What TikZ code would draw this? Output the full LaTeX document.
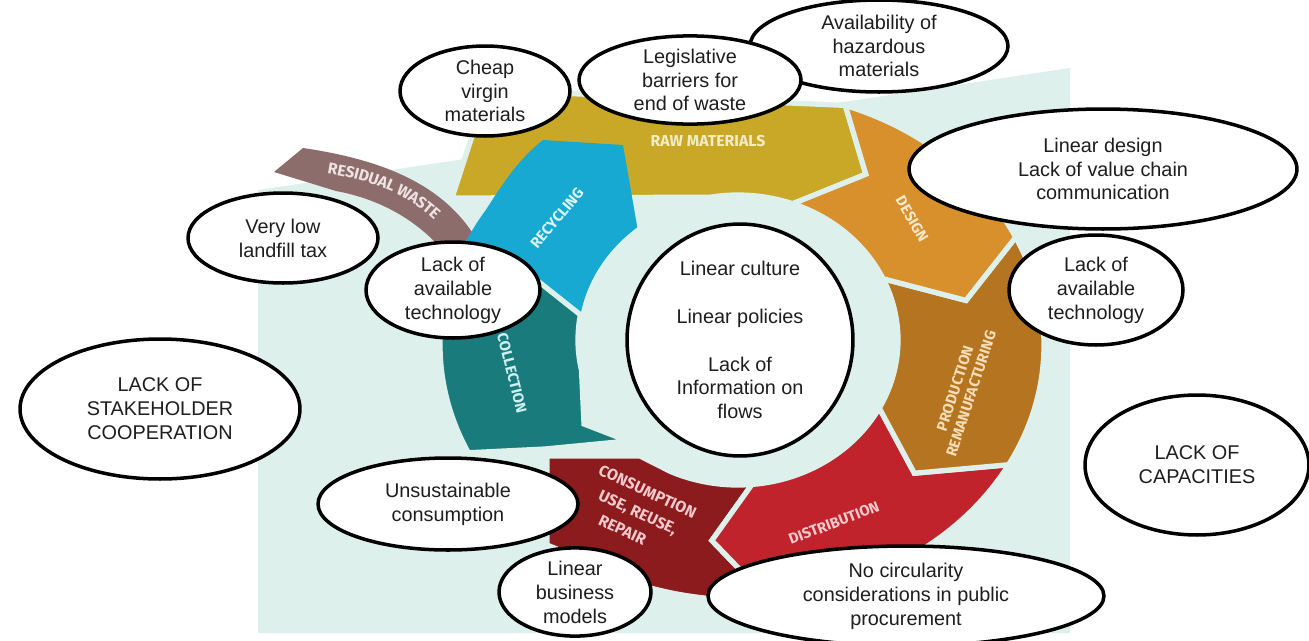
\documentclass[tikz,border=0pt]{standalone}
\usepackage{fontspec}
\setmainfont{Liberation Sans}
\newfontfamily\segfont{Fira Sans}
\usetikzlibrary{shapes.geometric,calc,decorations.text}

\definecolor{bgmint}{HTML}{DDF0EC}
\definecolor{rawc}{HTML}{C9A827}
\definecolor{desc}{HTML}{D8902C}
\definecolor{prodc}{HTML}{B5741F}
\definecolor{distc}{HTML}{C0232B}
\definecolor{consc}{HTML}{8C1B1E}
\definecolor{collc}{HTML}{1A7B7D}
\definecolor{recc}{HTML}{17A9D1}
\definecolor{resc}{HTML}{8D6D6C}
\definecolor{txt}{HTML}{1E1E1E}
\definecolor{rawtxt}{HTML}{F3EBC3}
\definecolor{destxt}{HTML}{FBE7CB}
\definecolor{prodtxt}{HTML}{F7DDB7}
\definecolor{redtxt}{HTML}{F6C9CC}
\definecolor{colltxt}{HTML}{CFEFF0}
\definecolor{rectxt}{HTML}{DDF4FB}
\definecolor{restxt}{HTML}{EEE2E2}

\begin{document}
\begin{tikzpicture}[x=0.02cm,y=-0.02cm,
  bubble/.style={ellipse, draw=black, line width=2pt, fill=white, inner sep=0pt,
    align=center, text=txt, font=\fontsize{11.3}{13.6}\selectfont},
  seg/.style={draw=bgmint, line width=3pt, line join=miter},
  seglabel/.style={font=\segfont\bfseries\fontsize{8.5}{9.6}\selectfont, align=center, inner sep=0pt}]

\useasboundingbox (0,0) rectangle (1309,640);
\fill[white] (0,0) rectangle (1309,640);
\fill[bgmint] (258,190) -- (1070,68) -- (1070,633) -- (258,633) -- cycle;

\coordinate (O) at (742,345);
\coordinate (I) at (738,340);
\coordinate (M) at (740,342);

% residual waste
\path[fill=resc] (303,148) .. controls (385,160) and (440,185) .. (472,232)
  -- (452,262) .. controls (425,225) and (385,200) .. (336,191) -- (274,172) -- cycle;
\path[decorate, decoration={text along path, text align=center, raise=-3.2pt,
  text={|\segfont\bfseries\fontsize{9}{9}\selectfont\color{restxt}|RESIDUAL WASTE}}]
  (290,164) .. controls (380,170) and (430,196) .. (462,246);

% raw materials
\path[seg, fill=rawc] (452,198) -- (487,90) -- ($(O)+(-70:302 and 255)$)
  -- ($(M)+(-57:231 and 200)$) -- ($(I)+(-70:160 and 145)$)
  arc[start angle=-70, end angle=-100, x radius=160, y radius=145] -- cycle;

% recycling
\path[fill=recc] ($(O)+(190:302 and 255)$)
  arc[start angle=190, end angle=212, x radius=302, y radius=255]
  .. controls (505,180) and (520,158) .. (543,140) -- (623,145)
  -- ($(I)+(231:160 and 145)$)
  arc[start angle=231, end angle=190, x radius=160, y radius=145]
  -- ($(M)+(201:231 and 200)$) -- cycle;

% collection
\path[seg, fill=collc] ($(O)+(155:302 and 255)$)
  arc[start angle=155, end angle=190, x radius=302, y radius=255]
  -- ($(M)+(201:231 and 200)$) -- ($(I)+(190:160 and 145)$)
  arc[start angle=190, end angle=168, x radius=160, y radius=145]
  -- (584,424) -- (628,441) -- (545,449) -- cycle;

% consumption
\path[seg, fill=consc] ($(O)+(85:302 and 255)$)
  arc[start angle=85, end angle=125, x radius=302, y radius=255]
  -- (547,545) -- (547,456) -- (640,456) -- ($(I)+(115:160 and 145)$)
  arc[start angle=115, end angle=85, x radius=160, y radius=145]
  -- ($(M)+(97:231 and 200)$) -- cycle;

% distribution
\path[seg, fill=distc] ($(O)+(28:302 and 255)$)
  arc[start angle=28, end angle=85, x radius=302, y radius=255]
  -- ($(M)+(97:231 and 200)$) -- ($(I)+(85:160 and 145)$)
  arc[start angle=85, end angle=28, x radius=160, y radius=145]
  -- ($(M)+(41:231 and 200)$) -- cycle;

% production
\path[seg, fill=prodc] ($(O)+(-25:302 and 255)$)
  arc[start angle=-25, end angle=28, x radius=302, y radius=255]
  -- ($(M)+(41:231 and 200)$) -- ($(I)+(28:160 and 145)$)
  arc[start angle=28, end angle=-25, x radius=160, y radius=145]
  -- ($(M)+(-12:231 and 200)$) -- cycle;

% design
\path[seg, fill=desc] ($(O)+(-70:302 and 255)$)
  arc[start angle=-70, end angle=-25, x radius=302, y radius=255]
  -- ($(M)+(-12:231 and 200)$) -- ($(I)+(-25:160 and 145)$)
  arc[start angle=-25, end angle=-70, x radius=160, y radius=145]
  -- ($(M)+(-57:231 and 200)$) -- cycle;

% segment labels
\node[seglabel, text=rawtxt, font=\segfont\bfseries\fontsize{9}{10}\selectfont] (lraw) at (708,141) {RAW MATERIALS};
\node[seglabel, text=destxt, rotate=-60] (ldes) at (912,219) {DESIGN};
\node[seglabel, text=prodtxt, rotate=72] (lprod) at (963,391) {PRODUCTION\\REMANUFACTURING};
\node[seglabel, text=redtxt, rotate=21] (ldist) at (834,523) {DISTRIBUTION};
\node[seglabel, text=redtxt, rotate=-25, align=left,
  font=\segfont\bfseries\fontsize{9}{12.9}\selectfont] (lcons) at (638,512)
  {CONSUMPTION\\\hspace*{6pt}USE, REUSE,\\\hspace*{12pt}REPAIR};
\node[seglabel, text=colltxt, rotate=-76] (lcoll) at (512,373) {COLLECTION};
\node[seglabel, text=rectxt, rotate=50] (lrec) at (557,218) {RECYCLING};

% barrier bubbles
\node[bubble, minimum width=5.16cm, minimum height=1.84cm] (avail) at (879,46) {Availability of\\hazardous\\materials};
\node[bubble, minimum width=4.44cm, minimum height=1.76cm] (legis) at (690,80) {Legislative\\barriers for\\end of waste};
\node[bubble, minimum width=3.4cm, minimum height=1.8cm] (cheap) at (485,91) {Cheap\\virgin\\materials};
\node[bubble, minimum width=3.8cm, minimum height=1.8cm] (landfill) at (283,238) {Very low\\landfill tax};
\node[bubble, minimum width=3.48cm, minimum height=1.92cm] (techL) at (453,290) {Lack of\\available\\technology};
\node[bubble, minimum width=4.52cm, minimum height=4.64cm] (centre) at (740,340)
  {Linear culture\\[13.6pt]Linear policies\\[13.6pt]Lack of\\Information on\\flows};
\node[bubble, minimum width=7.76cm, minimum height=2.4cm] (lindes) at (1103,169) {Linear design\\Lack of value chain\\communication};
\node[bubble, minimum width=3.48cm, minimum height=2.2cm] (techR) at (1096,290) {Lack of\\available\\technology};
\node[bubble, minimum width=5.6cm, minimum height=2.8cm] (stake) at (160,409) {LACK OF\\STAKEHOLDER\\COOPERATION};
\node[bubble, minimum width=4.48cm, minimum height=2.8cm] (capac) at (1197,465) {LACK OF\\CAPACITIES};
\node[bubble, minimum width=5.2cm, minimum height=1.84cm] (unsust) at (448,504) {Unsustainable\\consumption};
\node[bubble, minimum width=3.04cm, minimum height=1.76cm] (linbus) at (575,592) {Linear\\business\\models};
\node[bubble, minimum width=7.92cm, minimum height=2.0cm] (nocirc) at (906,596) {No circularity\\considerations in public\\procurement};
\end{tikzpicture}
\end{document}
